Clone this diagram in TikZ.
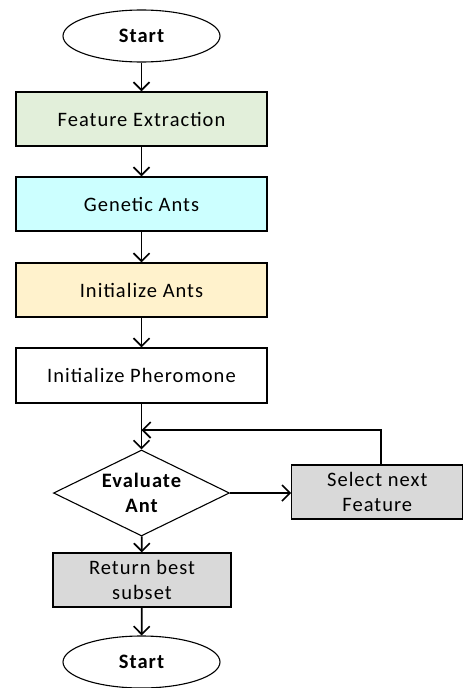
\documentclass[tikz,border=0pt]{standalone}
\usepackage{fontspec}
\setmainfont{Carlito}[LetterSpace=5]
\usetikzlibrary{shapes.geometric,arrows.meta}

\definecolor{fillgreen}{HTML}{E2EFDA}
\definecolor{fillcyan}{HTML}{CCFFFF}
\definecolor{fillcream}{HTML}{FFF2CC}
\definecolor{fillgray}{HTML}{D9D9D9}
\definecolor{inkline}{HTML}{000000}

\tikzset{
  every node/.style={font=\fontsize{20.5}{25}\selectfont, text=inkline, align=center},
  terminal/.style={ellipse, draw=inkline, line width=1.1pt, fill=white,
    minimum width=157pt, minimum height=52pt, inner sep=0pt,
    font=\fontsize{20.5}{25}\selectfont\bfseries},
  procbox/.style={rectangle, draw=inkline, line width=1.2pt,
    minimum width=251pt, minimum height=54pt, inner sep=0pt},
  smallbox/.style={rectangle, draw=inkline, line width=1.2pt, fill=fillgray,
    minimum height=54pt, inner sep=0pt},
  decision/.style={diamond, draw=inkline, line width=1.1pt, fill=white,
    minimum width=176pt, minimum height=86pt, inner sep=0pt},
  decisiontext/.style={font=\fontsize{20.5}{25}\selectfont\bfseries, inner sep=0pt},
  arr/.style={draw=inkline, line width=1.7pt,
    -{Straight Barb[length=8pt,width=16pt,line width=1.7pt]}},
}

\begin{document}
\begin{tikzpicture}[x=1pt,y=-1pt]
  \useasboundingbox (0,0) rectangle (464,688);

  % main column
  \node[terminal] (start) at (141.5,36) {Start};
  \node[procbox, fill=fillgreen] (extract) at (141.5,119) {Feature Extraction};
  \node[procbox, fill=fillcyan] (genetic) at (141.5,204) {Genetic Ants};
  \node[procbox, fill=fillcream] (initants) at (141.5,290) {Initialize Ants};
  \node[procbox, fill=white, minimum height=55pt] (initpher) at (141.5,375.5) {Initialize Pheromone};
  \node[decision] (evaluate) at (141.5,493) {};
  \node[decisiontext] (evallabel) at (141.5,493) {Evaluate\\Ant};
  \node[smallbox, minimum width=178pt] (best) at (142,580) {Return best\\subset};
  \node[terminal] (finish) at (141.5,662) {Start};

  % side branch
  \node[smallbox, minimum width=171pt] (nextfeat) at (377.3,492) {Select next\\Feature};
  \coordinate (merge) at (141.5,430);

  % connectors
  \draw[arr] (start) -- (extract);
  \draw[arr] (extract) -- (genetic);
  \draw[arr] (genetic) -- (initants);
  \draw[arr] (initants) -- (initpher);
  \draw[arr] (initpher) -- (evaluate);
  \draw[arr] (evaluate.east) -- (nextfeat.west |- evaluate.east);
  \draw[arr] ([xshift=3.5pt]nextfeat.north) |- (merge);
  \draw[arr] (evaluate) -- (best);
  \draw[arr] (best) -- (finish);
\end{tikzpicture}
\end{document}
